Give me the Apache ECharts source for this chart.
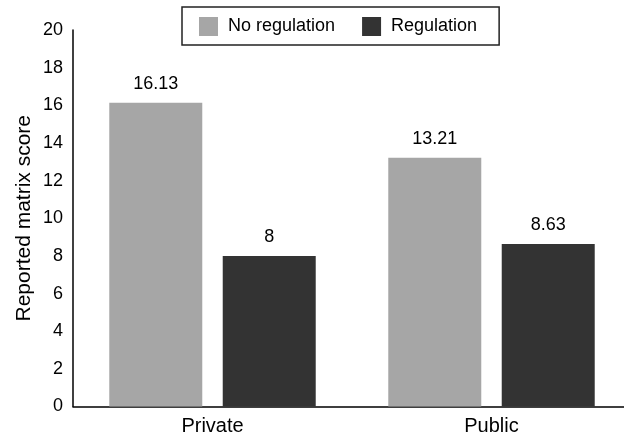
<!DOCTYPE html>
<html>
<head>
<meta charset="utf-8">
<script src="https://cdn.jsdelivr.net/npm/echarts@6/dist/echarts.min.js"></script>
<style>
html,body{margin:0;padding:0;background:#fff;}
#chart{width:624px;height:440px;}
</style>
</head>
<body>
<div id="chart"></div>
<script>
const categories = ['Private', 'Public'];
const seriesNames = ['No regulation', 'Regulation'];
const noRegulation = [16.13, 13.21];
const regulation = [8, 8.63];
const yTicks = { min: 0, max: 20, interval: 2 };

const FONT = 'Liberation Sans, Arial, Helvetica, sans-serif';
const chart = echarts.init(document.getElementById('chart'), null, { renderer: 'canvas' });

const labelStyle = {
  show: true,
  position: 'top',
  distance: 10,
  color: '#000',
  fontSize: 18,
  fontFamily: FONT
};

chart.setOption({
  animation: false,
  backgroundColor: '#fff',
  textStyle: { fontFamily: FONT },
  legend: {
    data: seriesNames,
    left: 182,
    top: 7,
    orient: 'horizontal',
    icon: 'rect',
    itemWidth: 19,
    itemHeight: 19,
    itemGap: 27,
    padding: [10, 22, 9, 17],
    borderColor: '#222',
    borderWidth: 1.5,
    textStyle: { fontSize: 18, color: '#000', fontFamily: FONT, padding: [0, 0, 0, 5] }
  },
  grid: { left: 73, top: 30, width: 558, height: 376.5, containLabel: false, outerBoundsMode: 'none' },
  xAxis: {
    type: 'category',
    data: categories,
    axisTick: { show: false },
    axisLine: { show: true, lineStyle: { color: '#000', width: 1.5 } },
    axisLabel: { fontSize: 20, color: '#000', margin: 10, fontFamily: FONT },
    splitLine: { show: false }
  },
  yAxis: {
    type: 'value',
    min: yTicks.min,
    max: yTicks.max,
    interval: yTicks.interval,
    name: 'Reported matrix score',
    nameLocation: 'middle',
    nameGap: 38,
    nameMoveOverlap: false,
    nameTextStyle: { fontSize: 21, color: '#000', fontFamily: FONT },
    axisTick: { show: false },
    axisLine: { show: true, lineStyle: { color: '#000', width: 1.5 } },
    axisLabel: { fontSize: 18, color: '#000', margin: 10, fontFamily: FONT },
    splitLine: { show: false }
  },
  series: [
    {
      name: seriesNames[0],
      type: 'bar',
      data: noRegulation,
      barWidth: 93,
      barGap: '22%',
      itemStyle: { color: '#a6a6a6' },
      label: labelStyle
    },
    {
      name: seriesNames[1],
      type: 'bar',
      data: regulation,
      barWidth: 93,
      barGap: '22%',
      itemStyle: { color: '#333333' },
      label: labelStyle
    }
  ]
});
</script>
</body>
</html>
